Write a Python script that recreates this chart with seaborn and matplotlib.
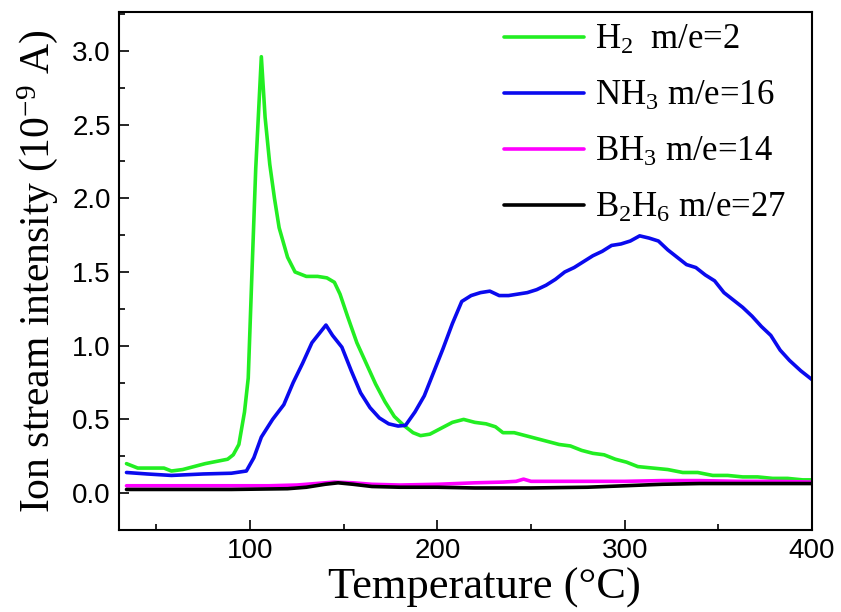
import matplotlib
matplotlib.use("Agg")
import matplotlib.pyplot as plt
import seaborn as sns
from matplotlib.ticker import MultipleLocator

# ---- data ----
temp_h2 = [34, 40, 48, 54, 58, 64, 70, 76, 80, 84, 88, 91, 94, 97, 99, 101, 103, 106, 108, 110.5,
           113, 115.5, 120, 124, 130, 136, 141, 145, 148, 152, 157, 162, 167, 172, 177, 182, 187, 191,
           196, 202, 208, 214, 220, 226, 231, 235, 241, 247, 253, 259, 265, 271, 277, 283, 289, 295,
           301, 307, 315, 323, 331, 339, 347, 355, 363, 371, 379, 387, 395, 400]
h2 = [0.20, 0.17, 0.17, 0.17, 0.15, 0.16, 0.18, 0.20, 0.21, 0.22, 0.23, 0.26, 0.33, 0.55, 0.78, 1.5,
      2.2, 2.96, 2.55, 2.23, 2.0, 1.80, 1.60, 1.50, 1.47, 1.47, 1.46, 1.43, 1.35, 1.20, 1.02, 0.88,
      0.74, 0.62, 0.52, 0.46, 0.41, 0.39, 0.40, 0.44, 0.48, 0.50, 0.48, 0.47, 0.45, 0.41, 0.41, 0.39,
      0.37, 0.35, 0.33, 0.32, 0.29, 0.27, 0.26, 0.23, 0.21, 0.18, 0.17, 0.16, 0.14, 0.14, 0.12, 0.12,
      0.11, 0.11, 0.10, 0.10, 0.09, 0.09]

temp_nh3 = [34, 45, 58, 75, 90, 98, 102, 106, 112, 118, 123, 128, 133, 138, 140.5, 144, 149, 154, 159,
            164, 169, 174, 179, 183, 188, 193, 198, 203, 208, 213, 218, 223, 228, 233, 238, 243, 248,
            253, 258, 263, 268, 273, 278, 283, 288, 293, 298, 303, 308, 313, 318, 323, 328, 333, 338,
            343, 348, 353, 358, 363, 368, 373, 378, 383, 388, 394, 400]
nh3 = [0.14, 0.13, 0.12, 0.13, 0.135, 0.15, 0.24, 0.38, 0.50, 0.60, 0.75, 0.88, 1.02, 1.10, 1.14, 1.07,
       0.99, 0.83, 0.68, 0.58, 0.51, 0.47, 0.455, 0.46, 0.55, 0.66, 0.82, 0.98, 1.15, 1.30, 1.34, 1.36,
       1.37, 1.34, 1.34, 1.35, 1.36, 1.38, 1.41, 1.45, 1.50, 1.53, 1.57, 1.61, 1.64, 1.68, 1.69, 1.71,
       1.745, 1.73, 1.71, 1.65, 1.60, 1.55, 1.53, 1.48, 1.44, 1.36, 1.31, 1.26, 1.20, 1.13, 1.07, 0.97,
       0.90, 0.83, 0.77]

temp_bh3 = [34, 50, 70, 90, 110, 125, 135, 145, 155, 165, 180, 200, 220, 235, 242, 246, 250, 260, 280,
            300, 320, 340, 360, 380, 400]
bh3 = [0.05, 0.05, 0.05, 0.05, 0.05, 0.055, 0.065, 0.075, 0.07, 0.06, 0.055, 0.06, 0.07, 0.075, 0.08,
       0.095, 0.08, 0.08, 0.08, 0.08, 0.085, 0.085, 0.08, 0.08, 0.075]

temp_b2h6 = [34, 60, 90, 120, 130, 140, 147, 155, 165, 180, 200, 220, 250, 280, 300, 320, 340, 360, 380, 400]
b2h6 = [0.025, 0.025, 0.025, 0.03, 0.04, 0.06, 0.07, 0.06, 0.045, 0.04, 0.04, 0.035, 0.035, 0.04, 0.05,
        0.06, 0.065, 0.065, 0.065, 0.065]

labels = [r"H$_2$  m/e=2", r"NH$_3$ m/e=16", r"BH$_3$ m/e=14", r"B$_2$H$_6$ m/e=27"]
colors = ["#22EE22", "#0A0AEE", "#FF00FF", "#000000"]

x_label = "Temperature (\u00b0C)"
y_label = r"Ion stream intensity (10$^{-9}$ A)"

# ---- style ----
sns.set_style("white")
plt.rcParams["font.family"] = ["Liberation Serif", "DejaVu Serif"]
plt.rcParams["mathtext.fontset"] = "custom"
plt.rcParams["mathtext.rm"] = "Liberation Serif"
plt.rcParams["mathtext.it"] = "Liberation Serif:italic"
plt.rcParams["mathtext.bf"] = "Liberation Serif:bold"
for key in ["text.color", "axes.labelcolor", "xtick.color", "ytick.color", "axes.edgecolor"]:
    plt.rcParams[key] = "black"

fig = plt.figure(figsize=(8.41, 6.12), dpi=100)
ax = fig.add_axes([0.1415, 0.134, 0.824, 0.8456])

series = [(temp_h2, h2), (temp_nh3, nh3), (temp_bh3, bh3), (temp_b2h6, b2h6)]
for (tx, ty), lab, col in zip(series, labels, colors):
    sns.lineplot(x=tx, y=ty, ax=ax, color=col, linewidth=2.6, label=lab, sort=False, estimator=None)

ax.set_xlim(30, 400)
ax.set_ylim(-0.25, 3.26)
ax.xaxis.set_major_locator(MultipleLocator(100))
ax.xaxis.set_minor_locator(MultipleLocator(50))
ax.yaxis.set_major_locator(MultipleLocator(0.5))
ax.yaxis.set_minor_locator(MultipleLocator(0.25))
ax.yaxis.set_major_formatter(matplotlib.ticker.FormatStrFormatter("%.1f"))

ax.tick_params(axis="both", which="major", direction="in", length=7.5, width=1.2,
               labelsize=20, pad=6, top=False, right=False, bottom=True, left=True,
               colors="black")
ax.tick_params(axis="both", which="minor", direction="in", length=4.5, width=1.2,
               top=False, right=False, bottom=True, left=True, colors="black")
for lbl in ax.get_xticklabels() + ax.get_yticklabels():
    lbl.set_fontfamily(["Liberation Sans", "DejaVu Sans"])

for sp in ax.spines.values():
    sp.set_linewidth(1.5)
    sp.set_color("black")

ax.set_xlabel(x_label, fontsize=32, labelpad=0)
ax.xaxis.set_label_coords(0.527, -0.133, transform=ax.transAxes)
ax.xaxis.label.set_va("baseline")
ax.set_ylabel(y_label, fontsize=30, labelpad=9)

leg = ax.legend(loc="upper left", bbox_to_anchor=(0.556, 0.978), frameon=False, fontsize=25,
                handlelength=2.3, handletextpad=0.3, labelspacing=0.66, borderpad=0,
                borderaxespad=0)

fig.savefig("out.png", dpi=100)
